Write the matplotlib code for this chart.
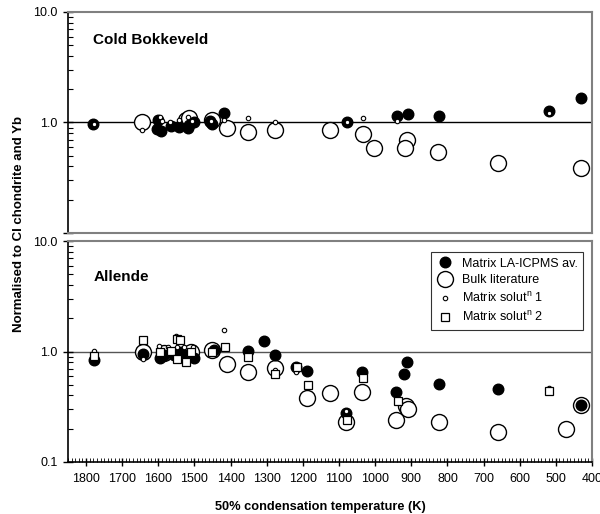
import matplotlib
matplotlib.use("Agg")
import matplotlib.pyplot as plt
from matplotlib.ticker import FixedLocator, MultipleLocator, LogLocator, NullFormatter
from matplotlib.lines import Line2D

plt.rcParams['font.family'] = ['Liberation Sans', 'DejaVu Sans']

# ---- Cold Bokkeveld (top panel) ----
cb_la_T = [1780, 1600, 1604, 1593, 1566, 1542, 1514, 1519, 1500, 1457, 1452, 1419,
           1078, 940, 909, 824, 519, 430]
cb_la_v = [0.97, 1.05, 0.88, 0.84, 0.93, 0.91, 0.95, 0.90, 1.01, 1.03, 0.97, 1.21,
           1.01, 1.15, 1.19, 1.15, 1.27, 1.67]
cb_bulk_T = [1644, 1523, 1514, 1452, 1410, 1352, 1278, 1124, 1035, 1002, 911, 917,
             826, 659, 430]
cb_bulk_v = [1.01, 1.05, 1.09, 1.05, 0.90, 0.82, 0.85, 0.85, 0.78, 0.59, 0.69, 0.59,
             0.54, 0.43, 0.39]
cb_s1_T = [1779, 1644, 1595, 1590, 1568, 1542, 1519, 1506, 1454, 1419, 1352, 1278,
           1078, 1035, 940, 519]
cb_s1_v = [0.97, 0.85, 1.11, 1.04, 1.00, 1.06, 1.11, 1.04, 1.04, 1.06, 1.09, 1.00,
           1.01, 1.09, 1.04, 1.21]

# ---- Allende (bottom panel) ----
al_la_T = [1779, 1642, 1595, 1585, 1557, 1528, 1500, 1538, 1447, 1352, 1309, 1276,
           1219, 1188, 1081, 1037, 941, 919, 911, 824, 659, 430]
al_la_v = [0.84, 0.94, 0.87, 0.93, 0.93, 0.93, 0.87, 1.00, 1.04, 1.01, 1.25, 0.93,
           0.73, 0.66, 0.277, 0.65, 0.43, 0.62, 0.80, 0.51, 0.46, 0.325]
al_bulk_T = [1642, 1585, 1523, 1509, 1452, 1410, 1352, 1276, 1188, 1124, 1037, 1081,
             941, 914, 909, 824, 659, 471, 430]
al_bulk_v = [0.98, 0.97, 0.93, 1.00, 1.04, 0.77, 0.65, 0.71, 0.38, 0.42, 0.43, 0.23,
             0.24, 0.32, 0.30, 0.23, 0.185, 0.20, 0.325]
al_s1_T = [1779, 1642, 1597, 1573, 1552, 1547, 1528, 1504, 1419, 1276, 1219, 1081, 519]
al_s1_v = [1.02, 0.85, 1.13, 1.09, 1.39, 1.09, 1.09, 1.09, 1.55, 0.68, 0.65, 0.287, 0.47]
al_s2_T = [1779, 1642, 1595, 1566, 1547, 1540, 1547, 1523, 1509, 1451, 1416, 1352,
           1276, 1216, 1187, 1035, 938, 1079, 519]
al_s2_v = [0.91, 1.26, 1.00, 1.02, 1.30, 1.26, 0.85, 0.81, 1.00, 0.98, 1.09, 0.90,
           0.62, 0.72, 0.50, 0.57, 0.36, 0.24, 0.44]

x_ticks = list(range(400, 1801, 100))
y_ticks = [0.1, 1.0, 10.0]
y_labels_top = ['', '1.0', '10.0']
y_labels_bot = ['0.1', '1.0', '10.0']

W, H = 600, 514
fig = plt.figure(figsize=(6.0, 5.14), dpi=100)
ax1 = fig.add_axes([68 / W, 1 - 233 / H, 524 / W, 221 / H])
ax2 = fig.add_axes([68 / W, 1 - 462 / H, 524 / W, 221 / H])

gray = '#808080'


def style_axes(ax, ylabels, bottom_axis):
    ax.set_yscale('log')
    ax.set_ylim(0.1, 10)
    ax.set_xlim(1850, 400)
    ax.yaxis.set_major_locator(FixedLocator(y_ticks))
    ax.set_yticklabels(ylabels)
    ax.yaxis.set_minor_locator(LogLocator(base=10, subs=range(2, 10)))
    ax.yaxis.set_minor_formatter(NullFormatter())
    ax.tick_params(axis='y', which='major', direction='inout', length=7, width=1,
                   labelsize=9, pad=4)
    ax.tick_params(axis='y', which='minor', direction='in', length=3.5, width=0.8)
    for s in ['top', 'right']:
        ax.spines[s].set_color(gray)
        ax.spines[s].set_linewidth(1.5)
    ax.spines['left'].set_linewidth(1.2)
    if bottom_axis:
        ax.xaxis.set_major_locator(FixedLocator(x_ticks))
        ax.xaxis.set_minor_locator(MultipleLocator(10))
        ax.tick_params(axis='x', which='major', direction='inout', length=6, width=1,
                       labelsize=9, pad=5)
        ax.tick_params(axis='x', which='minor', direction='in', length=3, width=0.6)
        ax.spines['bottom'].set_linewidth(1.2)
    else:
        ax.set_xticks([])
        ax.spines['bottom'].set_color(gray)
        ax.spines['bottom'].set_linewidth(1.5)


style_axes(ax1, y_labels_top, False)
style_axes(ax2, y_labels_bot, True)

ax1.axhline(1.0, color='black', lw=1.0, zorder=1)
ax2.axhline(1.0, color='#555555', lw=1.0, zorder=1)

for ax, bT, bv, lT, lv, sT, sv in [(ax1, cb_bulk_T, cb_bulk_v, cb_la_T, cb_la_v, cb_s1_T, cb_s1_v),
                                   (ax2, al_bulk_T, al_bulk_v, al_la_T, al_la_v, al_s1_T, al_s1_v)]:
    ax.plot(bT, bv, 'o', ms=11.5, mfc='white', mec='black', mew=1.0, ls='none', zorder=2)
    ax.plot(lT, lv, 'o', ms=7.6, mfc='black', mec='black', ls='none', zorder=3)
    ax.plot(sT, sv, 'o', ms=3.2, mfc='white', mec='black', mew=0.8, ls='none', zorder=4)

ax2.plot(al_s2_T, al_s2_v, 's', ms=5.5, mfc='white', mec='black', mew=0.9, ls='none', zorder=5)

ax1.text(0.048, 0.875, 'Cold Bokkeveld', transform=ax1.transAxes, fontsize=11,
         fontweight='bold', va='center', ha='left')
ax2.text(0.048, 0.837, 'Allende', transform=ax2.transAxes, fontsize=11,
         fontweight='bold', va='center', ha='left')

handles = [
    Line2D([], [], marker='o', ls='none', ms=7.6, mfc='black', mec='black'),
    Line2D([], [], marker='o', ls='none', ms=11.5, mfc='white', mec='black', mew=1.0),
    Line2D([], [], marker='o', ls='none', ms=3.2, mfc='white', mec='black', mew=0.8),
    Line2D([], [], marker='s', ls='none', ms=5.5, mfc='white', mec='black', mew=0.9),
]
labels = ['Matrix LA-ICPMS av.', 'Bulk literature',
          'Matrix solut$^{\\mathregular{n}}$ 1', 'Matrix solut$^{\\mathregular{n}}$ 2']
leg = ax2.legend(handles, labels, loc='upper right',
                 bbox_to_anchor=((583 - 68) / 524, (462 - 252) / 221),
                 fontsize=9, frameon=True, fancybox=False, edgecolor='black',
                 handletextpad=0.7, borderpad=0.45, labelspacing=0.38, handlelength=1.3,
                 borderaxespad=0)
leg.get_frame().set_linewidth(0.8)

fig.text(19 / W, 1 - 224 / H, 'Normalised to CI chondrite and Yb', rotation=90,
         fontsize=9.5, fontweight='bold', ha='center', va='center')
fig.text(320 / W, 1 - 507 / H, '50% condensation temperature (K)', fontsize=9.2,
         fontweight='bold', ha='center', va='center')

fig.savefig('out.png', dpi=100)
